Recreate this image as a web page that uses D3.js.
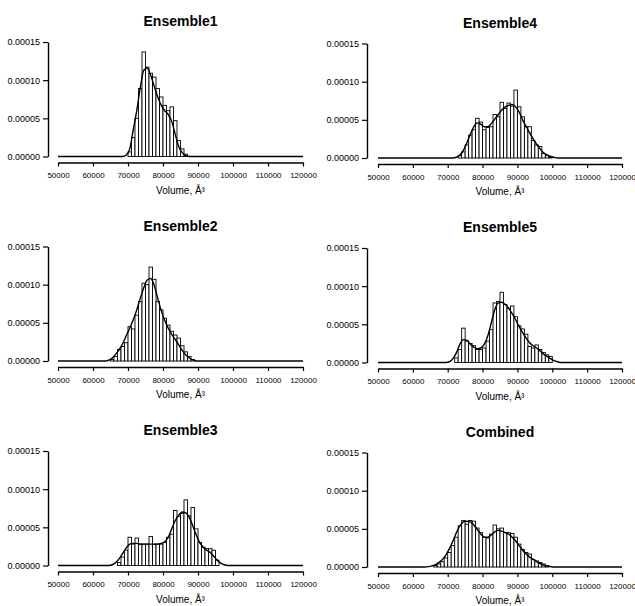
<!DOCTYPE html>
<html>
<head>
<meta charset="utf-8">
<script src="https://cdn.jsdelivr.net/npm/d3@7"></script>
<style>
  body { margin: 0; background: #fff; }
  svg { display: block; font-family: "Liberation Sans", Arial, sans-serif; }
  .title { font-size: 14px; font-weight: bold; text-anchor: middle; }
  .xlabel { font-size: 10px; text-anchor: middle; }
  .tick text { font-size: 8px; }
  .yax .tick text { font-size: 9px; }
</style>
</head>
<body>
<svg width="635" height="606"></svg>
<script>
// density values are in units of 1e-5, one bar per 1000 A^3 bin
const titles = ['Ensemble1', 'Ensemble2', 'Ensemble3', 'Ensemble4', 'Ensemble5', 'Combined'];
const xTicks = [50000, 60000, 70000, 80000, 90000, 100000, 110000, 120000];
const yTicks = [0, 5, 10, 15];

// histogram bars (first bin start, heights)
const hist1Start = 70000;
const hist1 = [0.6, 2.5, 5.0, 8.9, 13.7, 11.7, 10.9, 10.4, 8.9, 7.8, 6.7, 6.0, 6.5, 4.7, 2.1, 1.0, 0.3];
const hist2Start = 65000;
const hist2 = [0.2, 0.6, 1.5, 1.9, 2.4, 4.5, 4.2, 6.0, 7.8, 10.2, 10.0, 12.3, 10.7, 7.8, 6.7, 5.6, 4.7, 3.9, 3.4, 3.0, 2.0, 1.2, 0.6, 0.2];
const hist3Start = 67000;
const hist3 = [0.4, 1.1, 2.0, 3.7, 2.8, 3.6, 2.8, 2.8, 2.8, 3.8, 2.8, 2.8, 2.8, 3.0, 3.7, 4.1, 7.2, 6.4, 6.8, 8.6, 6.5, 7.6, 4.8, 3.0, 2.4, 2.2, 2.2, 2.0, 0.7];
const hist4Start = 73000;
const hist4 = [0.3, 0.8, 1.7, 3.0, 3.7, 5.2, 4.7, 3.7, 4.0, 4.1, 5.7, 5.4, 7.3, 6.5, 7.2, 6.8, 8.9, 6.7, 5.4, 4.1, 4.1, 2.3, 1.7, 1.5, 0.6, 0.3, 0.1];
const hist5Start = 72000;
const hist5 = [0.6, 1.7, 4.5, 2.8, 2.5, 2.2, 1.7, 1.7, 1.9, 2.8, 4.3, 7.8, 8.0, 9.2, 7.6, 7.1, 7.4, 6.0, 4.8, 4.4, 3.7, 2.1, 1.9, 2.3, 1.7, 1.3, 1.0, 0.8];
const hist6Start = 66000;
const hist6 = [0.2, 0.4, 0.7, 1.2, 1.9, 2.8, 3.9, 5.4, 6.1, 5.6, 6.1, 6.0, 5.1, 4.5, 3.9, 3.8, 4.3, 5.5, 5.0, 5.1, 4.5, 4.5, 4.4, 3.9, 3.0, 2.3, 1.9, 1.7, 1.0, 0.8, 0.6, 0.4, 0.2];

// smoothed density curves (read at bin centres, first bin start)
const curve1Start = 68000;
const curve1 = [0, 0.2, 1.0, 3.5, 6.0, 9.0, 11.3, 11.6, 10.6, 9.2, 7.8, 6.7, 6.0, 5.5, 4.6, 2.9, 1.3, 0.5, 0.1, 0];
const curve2Start = 63000;
const curve2 = [0, 0.1, 0.4, 0.9, 1.5, 2.3, 3.3, 4.3, 5.4, 6.7, 8.2, 9.6, 10.6, 10.8, 9.9, 8.2, 6.6, 5.3, 4.3, 3.5, 2.8, 2.1, 1.4, 0.8, 0.4, 0.15, 0];
const curve3Start = 64000;
const curve3 = [0, 0.1, 0.4, 0.9, 1.6, 2.3, 2.8, 2.9, 2.9, 2.8, 2.8, 2.8, 2.8, 2.8, 2.8, 2.9, 3.1, 3.7, 4.8, 5.9, 6.6, 7.0, 6.9, 6.3, 5.2, 4.0, 3.0, 2.4, 2.0, 1.7, 1.2, 0.7, 0.3, 0.1, 0];
const curve4Start = 71000;
const curve4 = [0, 0.1, 0.4, 1.0, 2.0, 3.1, 4.1, 4.6, 4.4, 4.1, 4.1, 4.5, 5.1, 5.7, 6.3, 6.7, 6.9, 7.0, 6.7, 6.0, 5.0, 4.1, 3.3, 2.5, 1.8, 1.2, 0.7, 0.4, 0.2, 0.1, 0];
const curve5Start = 69000;
const curve5 = [0, 0.1, 0.5, 1.3, 2.4, 3.0, 2.9, 2.4, 2.0, 1.8, 1.9, 2.4, 3.5, 5.2, 6.9, 7.8, 7.9, 7.6, 7.1, 6.4, 5.6, 4.7, 3.9, 3.2, 2.6, 2.2, 1.9, 1.5, 1.1, 0.8, 0.5, 0.25, 0.1, 0];
const curve6Start = 63000;
const curve6 = [0, 0.05, 0.15, 0.3, 0.6, 1.0, 1.6, 2.4, 3.4, 4.5, 5.4, 5.9, 6.0, 5.9, 5.5, 4.9, 4.3, 3.9, 3.9, 4.2, 4.6, 4.8, 4.7, 4.5, 4.3, 3.9, 3.4, 2.8, 2.2, 1.7, 1.3, 1.0, 0.7, 0.45, 0.25, 0.12, 0.05, 0];

const panels = [
    { title: titles[0], hist: hist1, hStart: hist1Start, curve: curve1, cStart: curve1Start, col: 0, row: 0 },
    { title: titles[1], hist: hist2, hStart: hist2Start, curve: curve2, cStart: curve2Start, col: 0, row: 1 },
    { title: titles[2], hist: hist3, hStart: hist3Start, curve: curve3, cStart: curve3Start, col: 0, row: 2 },
    { title: titles[3], hist: hist4, hStart: hist4Start, curve: curve4, cStart: curve4Start, col: 1, row: 0 },
    { title: titles[4], hist: hist5, hStart: hist5Start, curve: curve5, cStart: curve5Start, col: 1, row: 1 },
    { title: titles[5], hist: hist6, hStart: hist6Start, curve: curve6, cStart: curve6Start, col: 1, row: 2 },
];

const binW = 1000;
const svg = d3.select('svg');

// column / row geometry
const cols = [
    { axisX: 48, x0: 58, x1: 303 },
    { axisX: 367, x0: 378, x1: 622 },
];
const rowTop = (row, col) => 42 + row * 204.5 + col * 1.5;
const plotH = 114.5;

panels.forEach((p) => {
    const c = cols[p.col];
    const top = rowTop(p.row, p.col);
    const base = top + plotH;

    const x = d3.scaleLinear().domain([50000, 120000]).range([c.x0, c.x1]);
    const y = d3.scaleLinear().domain([0, 15]).range([base, top]);

    const g = svg.append('g');

    // 标题
    g.append('text')
        .attr('class', 'title')
        .attr('x', (c.x0 + c.x1) / 2)
        .attr('y', top - 16)
        .text(p.title);

    // 柱子
    g.selectAll('rect')
        .data(p.hist)
        .enter()
        .append('rect')
        .attr('x', (d, i) => x(p.hStart + i * binW))
        .attr('width', (d, i) => x(p.hStart + (i + 1) * binW) - x(p.hStart + i * binW))
        .attr('y', (d) => y(d))
        .attr('height', (d) => base - y(d))
        .attr('fill', '#fff')
        .attr('stroke', '#000')
        .attr('stroke-width', 0.9);

    // 密度曲线, flat at zero over the full range
    const pts = [[50000, 0]]
        .concat(p.curve.map((d, i) => [p.cStart + binW / 2 + i * binW, d]))
        .concat([[120000, 0]]);
    const line = d3.line()
        .x((d) => x(d[0]))
        .y((d) => y(d[1]))
        .curve(d3.curveMonotoneX);
    g.append('path')
        .attr('d', line(pts))
        .attr('fill', 'none')
        .attr('stroke', '#000')
        .attr('stroke-width', 1.4);

    // x axis, offset below the plot
    const xAxis = g.append('g')
        .attr('transform', `translate(0,${base + 6})`)
        .call(d3.axisBottom(x).tickValues(xTicks).tickSize(4).tickSizeOuter(0).tickPadding(6).tickFormat(d3.format('d')));
    xAxis.select('.domain').attr('stroke-width', 1.4);
    xAxis.selectAll('.tick line').attr('stroke-width', 1.2);

    // y axis, offset left of the plot
    const yAxis = g.append('g')
        .attr('class', 'yax')
        .attr('transform', `translate(${c.axisX},0)`)
        .call(d3.axisLeft(y).tickValues(yTicks).tickSize(5).tickSizeOuter(0).tickPadding(3)
            .tickFormat((d) => (d * 1e-5).toFixed(5)));
    yAxis.select('.domain').attr('stroke-width', 1.4);
    yAxis.selectAll('.tick line').attr('stroke-width', 1.2);
    svg.selectAll('.tick text').attr('fill', '#000');

    // x 轴标签
    g.append('text')
        .attr('class', 'xlabel')
        .attr('x', (c.x0 + c.x1) / 2)
        .attr('y', base + 37)
        .text('Volume, Å³');
});
</script>
</body>
</html>
